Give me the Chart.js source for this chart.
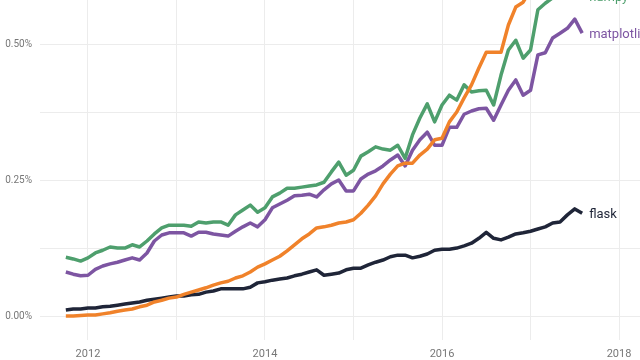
<!DOCTYPE html>
<html>
<head>
<meta charset="utf-8">
<script src="https://cdn.jsdelivr.net/npm/chart.js@4"></script>
<style>
  html, body { margin: 0; padding: 0; background: #fff; }
  #wrap { width: 640px; height: 360px; position: relative; }
</style>
</head>
<body>
<div id="wrap"><canvas id="trend"></canvas></div>
<script>
// Datos: % de preguntas por mes, oct 2011 - ago 2017
const startYear = 2011;
const startMonth = 10;

const pandas = [0.000,0.000,0.001,0.002,0.002,0.004,0.006,0.009,0.011,0.013,
  0.017,0.020,0.026,0.029,0.033,0.035,0.040,0.044,0.048,0.052,
  0.057,0.061,0.064,0.070,0.074,0.081,0.090,0.096,0.103,0.110,
  0.120,0.131,0.142,0.151,0.162,0.164,0.167,0.171,0.173,0.177,
  0.189,0.204,0.221,0.243,0.261,0.276,0.281,0.281,0.296,0.307,
  0.324,0.327,0.357,0.375,0.401,0.425,0.456,0.485,0.485,0.485,
  0.535,0.568,0.577,0.600,0.620,0.630,0.650,0.660,0.680,0.690,
  0.700];

const numpy = [0.108,0.105,0.101,0.107,0.116,0.121,0.127,0.125,0.125,0.131,
  0.127,0.138,0.151,0.162,0.167,0.167,0.167,0.165,0.173,0.171,
  0.173,0.173,0.167,0.186,0.195,0.204,0.191,0.199,0.219,0.226,
  0.235,0.235,0.237,0.239,0.241,0.246,0.265,0.283,0.259,0.268,
  0.294,0.302,0.311,0.307,0.305,0.314,0.290,0.333,0.364,0.390,
  0.357,0.388,0.406,0.397,0.425,0.412,0.414,0.415,0.388,0.443,
  0.489,0.507,0.474,0.489,0.563,0.575,0.585,0.588,0.592,0.588,
  0.588];

const matplotlib = [0.081,0.077,0.074,0.075,0.086,0.092,0.096,0.099,0.103,0.107,
  0.103,0.116,0.138,0.149,0.153,0.153,0.153,0.147,0.154,0.154,
  0.151,0.149,0.147,0.156,0.164,0.171,0.164,0.177,0.199,0.206,
  0.213,0.221,0.222,0.224,0.219,0.232,0.243,0.250,0.230,0.230,
  0.252,0.261,0.267,0.276,0.287,0.296,0.276,0.305,0.324,0.338,
  0.314,0.314,0.347,0.347,0.371,0.377,0.381,0.382,0.360,0.388,
  0.415,0.434,0.406,0.415,0.480,0.484,0.511,0.520,0.529,0.546,
  0.520];

const flask = [0.011,0.013,0.013,0.015,0.015,0.017,0.018,0.020,0.022,0.024,
  0.026,0.029,0.031,0.033,0.035,0.037,0.037,0.039,0.040,0.044,
  0.046,0.050,0.050,0.050,0.050,0.053,0.061,0.063,0.066,0.068,
  0.070,0.074,0.077,0.081,0.085,0.075,0.077,0.079,0.085,0.088,
  0.088,0.094,0.099,0.103,0.109,0.112,0.112,0.107,0.110,0.114,
  0.121,0.123,0.123,0.125,0.129,0.134,0.143,0.154,0.143,0.140,
  0.145,0.151,0.153,0.156,0.160,0.164,0.171,0.173,0.186,0.197,
  0.189];

const yearTicks = [2012, 2013, 2014, 2015, 2016, 2017, 2018];
const pctTicks = [0, 0.125, 0.25, 0.375, 0.5];
const pctLabels = [0, 0.25, 0.5];

// posición de cada mes como año decimal
const months = numpy.map((_, i) => startYear + (startMonth - 1 + i) / 12);
const toPoints = arr => arr.map((v, i) => ({ x: months[i], y: v }));

const series = [
  { label: 'pandas', data: pandas, color: '#f0822a' },
  { label: 'numpy', data: numpy, color: '#4e9f6d' },
  { label: 'matplotlib', data: matplotlib, color: '#7d55a2' },
  { label: 'flask', data: flask, color: '#1f2538' }
];

// etiqueta al final de cada línea
const endLabels = {
  id: 'endLabels',
  afterDatasetsDraw(chart) {
    const ctx = chart.ctx;
    ctx.save();
    ctx.font = '13px Roboto';
    ctx.textBaseline = 'middle';
    ctx.textAlign = 'left';
    chart.data.datasets.forEach((ds, i) => {
      const meta = chart.getDatasetMeta(i);
      const last = meta.data[meta.data.length - 1];
      ctx.fillStyle = ds.borderColor;
      ctx.fillText(ds.label, last.x + 7, last.y + 2);
    });
    ctx.restore();
  }
};

// sin márgenes extra de las etiquetas de los ejes
const noPad = s => { s.paddingTop = 0; s.paddingBottom = 0; s.paddingLeft = 0; s.paddingRight = 0; };

new Chart(document.getElementById('trend'), {
  type: 'line',
  data: {
    datasets: series.map(s => ({
      label: s.label,
      data: toPoints(s.data),
      borderColor: s.color,
      backgroundColor: s.color,
      borderWidth: 3.5,
      pointRadius: 0,
      tension: 0,
      borderJoinStyle: 'round'
    }))
  },
  options: {
    responsive: true,
    maintainAspectRatio: false,
    animation: false,
    layout: { padding: 0 },
    plugins: {
      legend: { display: false },
      tooltip: { enabled: false }
    },
    scales: {
      x: {
        type: 'linear',
        min: 2011.458,
        max: 2018.237,
        afterBuildTicks: s => { s.ticks = yearTicks.map(v => ({ value: v })); },
        afterFit: s => { s.height = 20; noPad(s); },
        grid: { color: '#ececec', drawTicks: false, lineWidth: 1 },
        border: { display: false },
        ticks: {
          padding: 8,
          color: '#777',
          font: { family: 'Roboto', size: 11 },
          maxRotation: 0,
          autoSkip: false,
          callback: v => (v % 2 === 0 ? String(v) : '')
        }
      },
      y: {
        min: -0.044,
        max: 0.581,
        afterBuildTicks: s => { s.ticks = pctTicks.map(v => ({ value: v })); },
        afterFit: s => { s.width = 40; noPad(s); },
        grid: { color: '#ececec', drawTicks: false, lineWidth: 1 },
        border: { display: false },
        ticks: {
          padding: 8,
          color: '#777',
          font: { family: 'Roboto', size: 10 },
          callback: v => (pctLabels.includes(v) ? v.toFixed(2) + '%' : '')
        }
      }
    }
  },
  plugins: [endLabels]
});
</script>
</body>
</html>
